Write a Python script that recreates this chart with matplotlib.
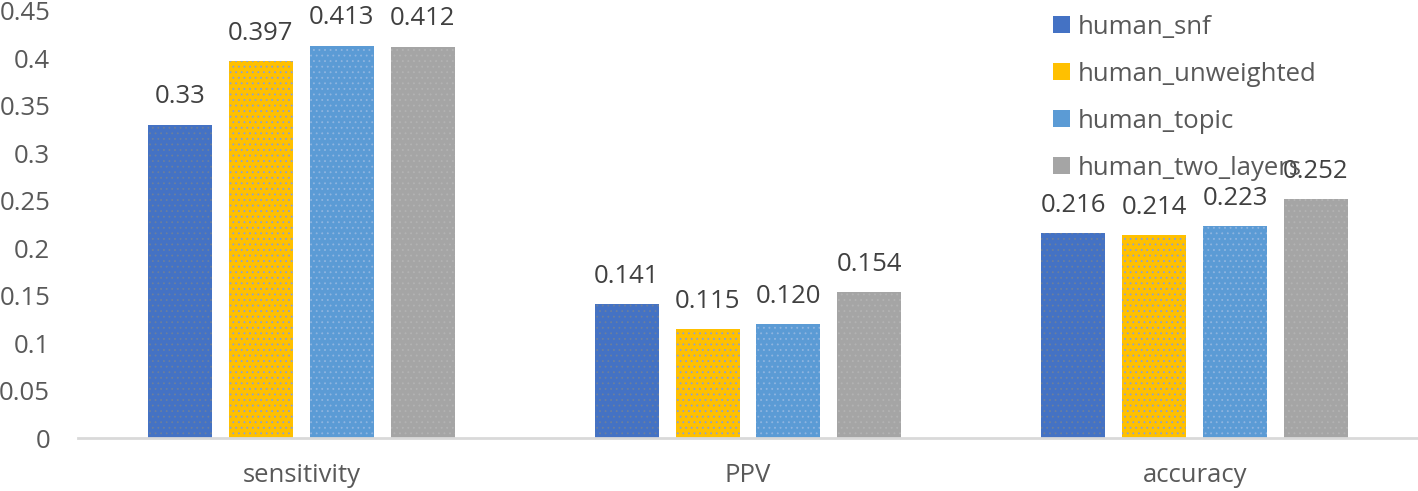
"""Grouped bar chart: sensitivity / PPV / accuracy for the four human_* runs."""

import matplotlib

matplotlib.use("Agg")
import matplotlib.pyplot as plt  # noqa: E402
import numpy as np  # noqa: E402

categories = ["sensitivity", "PPV", "accuracy"]
series_names = ["human_snf", "human_unweighted", "human_topic", "human_two_layers"]
human_snf = [0.33, 0.141, 0.216]
human_unweighted = [0.397, 0.115, 0.214]
human_topic = [0.413, 0.120, 0.223]
human_two_layers = [0.412, 0.154, 0.252]
value_labels = [
    ["0.33", "0.141", "0.216"],
    ["0.397", "0.115", "0.214"],
    ["0.413", "0.120", "0.223"],
    ["0.412", "0.154", "0.252"],
]
y_ticks = [0, 0.05, 0.1, 0.15, 0.2, 0.25, 0.3, 0.35, 0.4, 0.45]

colors = ["#4472C4", "#FFC000", "#5B9BD5", "#A5A5A5"]
dot_colors = ["#6a7f9e", "#8aa0d8", "#8fb5e0", "#b3b3b3"]
text_color = "#595959"
fs = 18.5

plt.rcParams["font.family"] = ["Open Sans", "DejaVu Sans"]
plt.rcParams["hatch.linewidth"] = 0.6

fig = plt.figure(figsize=(14.18, 4.91), dpi=100)
ax = fig.add_axes([0.055, 0.107, 0.945, 0.8716])

x = np.arange(len(categories))
step = 0.181
width = 0.143
all_series = [human_snf, human_unweighted, human_topic, human_two_layers]

handles = []
for i, vals in enumerate(all_series):
    pos = x + (i - 1.5) * step
    bars = ax.bar(pos, vals, width, color=colors[i], linewidth=0, label=series_names[i])
    # faint stipple like the original fill texture
    ax.bar(pos, vals, width, fill=False, hatch="...", edgecolor=dot_colors[i], linewidth=0)
    handles.append(bars)
    for xp, v, lab in zip(pos, vals, value_labels[i]):
        ax.text(xp, v + 0.016, lab, ha="center", va="bottom", fontsize=fs, color="#404040")

ax.set_xlim(-0.5, len(categories) - 0.5)
ax.set_ylim(0, 0.45)
ax.set_yticks(y_ticks)
ax.set_yticklabels([f"{t:g}" for t in y_ticks])
ax.set_xticks(x)
ax.set_xticklabels(categories)
ax.tick_params(axis="both", length=0, labelsize=fs, labelcolor=text_color)
ax.tick_params(axis="x", pad=18)
ax.tick_params(axis="y", pad=20)

for side in ["top", "right", "left"]:
    ax.spines[side].set_visible(False)
ax.spines["bottom"].set_color("#D9D9D9")
ax.spines["bottom"].set_linewidth(2)

leg = fig.legend(
    handles=handles,
    labels=series_names,
    loc="upper left",
    bbox_to_anchor=(1030 / 1418, 1.0 + 8.5 / 491),
    frameon=False,
    fontsize=fs,
    handlelength=0.65,
    handleheight=0.65,
    handletextpad=0.3,
    labelspacing=0.86,
)
for t in leg.get_texts():
    t.set_color(text_color)

fig.savefig("out.png", dpi=100)
